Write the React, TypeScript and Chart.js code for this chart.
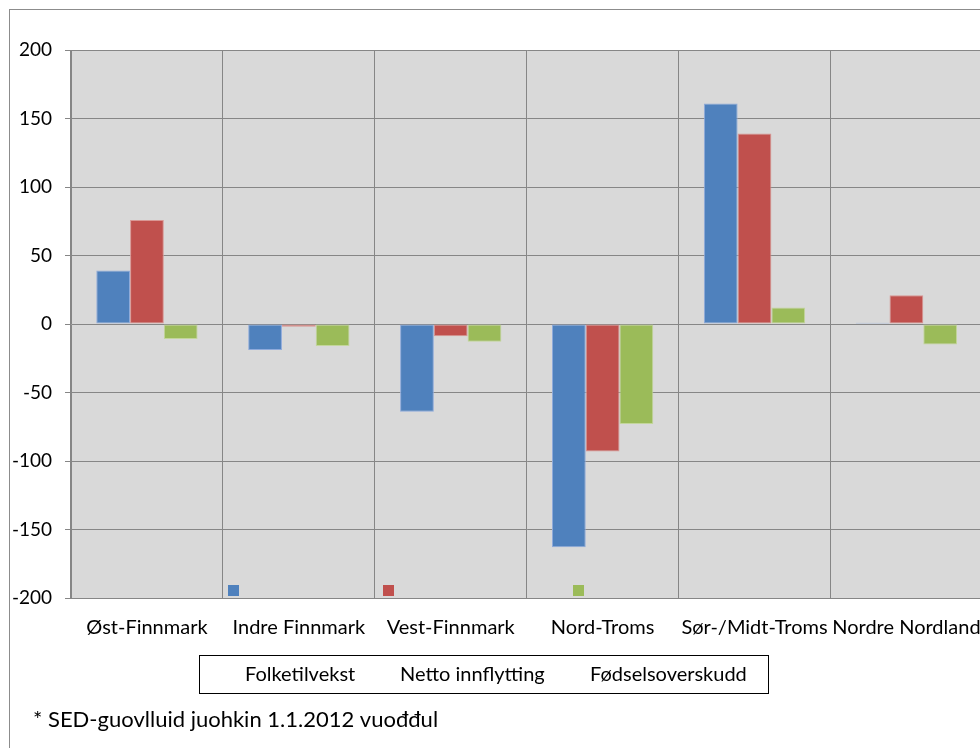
import React, { useEffect, useRef } from "react";
import { Chart, registerables } from "chart.js";

Chart.register(...registerables);

const categories = ["Øst-Finnmark", "Indre Finnmark", "Vest-Finnmark", "Nord-Troms", "Sør-/Midt-Troms", "Nordre Nordland"];
const seriesNames = ["Folketilvekst", "Netto innflytting", "Fødselsoverskudd"];
const folketilvekst = [39, -19, -64, -163, 161, 1];
const nettoInnflytting = [76, -2, -9, -93, 139, 21];
const fodselsoverskudd = [-11, -16, -13, -73, 12, -15];
const yTicks = [-200, -150, -100, -50, 0, 50, 100, 150, 200];
const footnote = "* SED-guovlluid juohkin 1.1.2012 vuođđul";

const colors = ["#4F81BD", "#C0504D", "#9BBB59"];
const borders = ["#8EAADB", "#D99794", "#C3D69B"];
const FONT = "Lato, 'Noto Sans', sans-serif";

export default function App() {
  const ref = useRef<HTMLCanvasElement | null>(null);
  useEffect(() => {
    const canvas = ref.current;
    if (!canvas) return;
    const values = [folketilvekst, nettoInnflytting, fodselsoverskudd];

    const bgPlugin = {
      id: "bg",
      beforeDraw(chart: any) {
        const { ctx, chartArea } = chart;
        ctx.save();
        ctx.fillStyle = "#fff";
        ctx.fillRect(0, 0, chart.width, chart.height);
        ctx.fillStyle = "#D9D9D9";
        ctx.fillRect(chartArea.left, chartArea.top, chartArea.right - chartArea.left, chartArea.bottom - chartArea.top);
        ctx.restore();
      },
      afterDraw(chart: any) {
        const { ctx, chartArea } = chart;
        ctx.save();
        ctx.strokeStyle = "#8C8C8C";
        ctx.lineWidth = 1;
        ctx.strokeRect(9.5, 9.5, chart.width + 20, chart.height + 20);
        ctx.strokeStyle = "#000";
        ctx.strokeRect(199.5, 655.5, 569, 38);
        ctx.font = `20px ${FONT}`;
        ctx.textBaseline = "middle";
        ctx.textAlign = "left";
        const textX = [245, 400, 590];
        chart.data.datasets.forEach((ds: any, i: number) => {
          ctx.fillStyle = "#000";
          ctx.fillText(ds.label, textX[i], 675);
          ctx.fillStyle = colors[i];
          ctx.fillRect(textX[i] - 17, chartArea.bottom - 13, 11, 11);
        });
        ctx.fillStyle = "#000";
        ctx.font = `22px ${FONT}`;
        ctx.fillText(footnote, 33, 720);
        ctx.restore();
      },
    };

    const chart = new Chart(canvas, {
      type: "bar",
      data: {
        labels: categories,
        datasets: seriesNames.map((name, i) => ({
          label: name,
          data: values[i],
          backgroundColor: colors[i],
          borderColor: borders[i],
          borderWidth: 1,
          borderSkipped: false,
          categoryPercentage: 0.667,
          barPercentage: 1,
        })),
      },
      options: {
        responsive: false,
        animation: false,
        devicePixelRatio: 1,
        layout: { padding: { left: 0, top: 50, right: 17, bottom: 102 } },
        plugins: { legend: { display: false }, tooltip: { enabled: false } },
        scales: {
          x: {
            offset: true,
            grid: { offset: true, color: "#868686", lineWidth: 1, drawTicks: false },
            border: { color: "#868686" },
            ticks: { color: "#000", font: { family: FONT, size: 20 }, padding: 18, maxRotation: 0, autoSkip: false },
            afterFit(scale: any) { scale.height = 60; },
          },
          y: {
            min: -200,
            max: 200,
            afterBuildTicks(scale: any) { scale.ticks = yTicks.map((v) => ({ value: v })); },
            grid: { color: "#868686", lineWidth: 1, tickLength: 6 },
            border: { color: "#868686" },
            ticks: { color: "#000", font: { family: FONT, size: 19 }, padding: 13 },
            afterFit(scale: any) { scale.width = 71; },
          },
        },
      },
      plugins: [bgPlugin],
    });
    return () => chart.destroy();
  }, []);

  return (
    <div style={{ position: "fixed", left: 0, top: 0, width: 980, height: 748, overflow: "hidden", background: "#fff" }}>
      <canvas ref={ref} width={1000} height={760} style={{ position: "absolute", left: 0, top: 0 }} />
    </div>
  );
}
